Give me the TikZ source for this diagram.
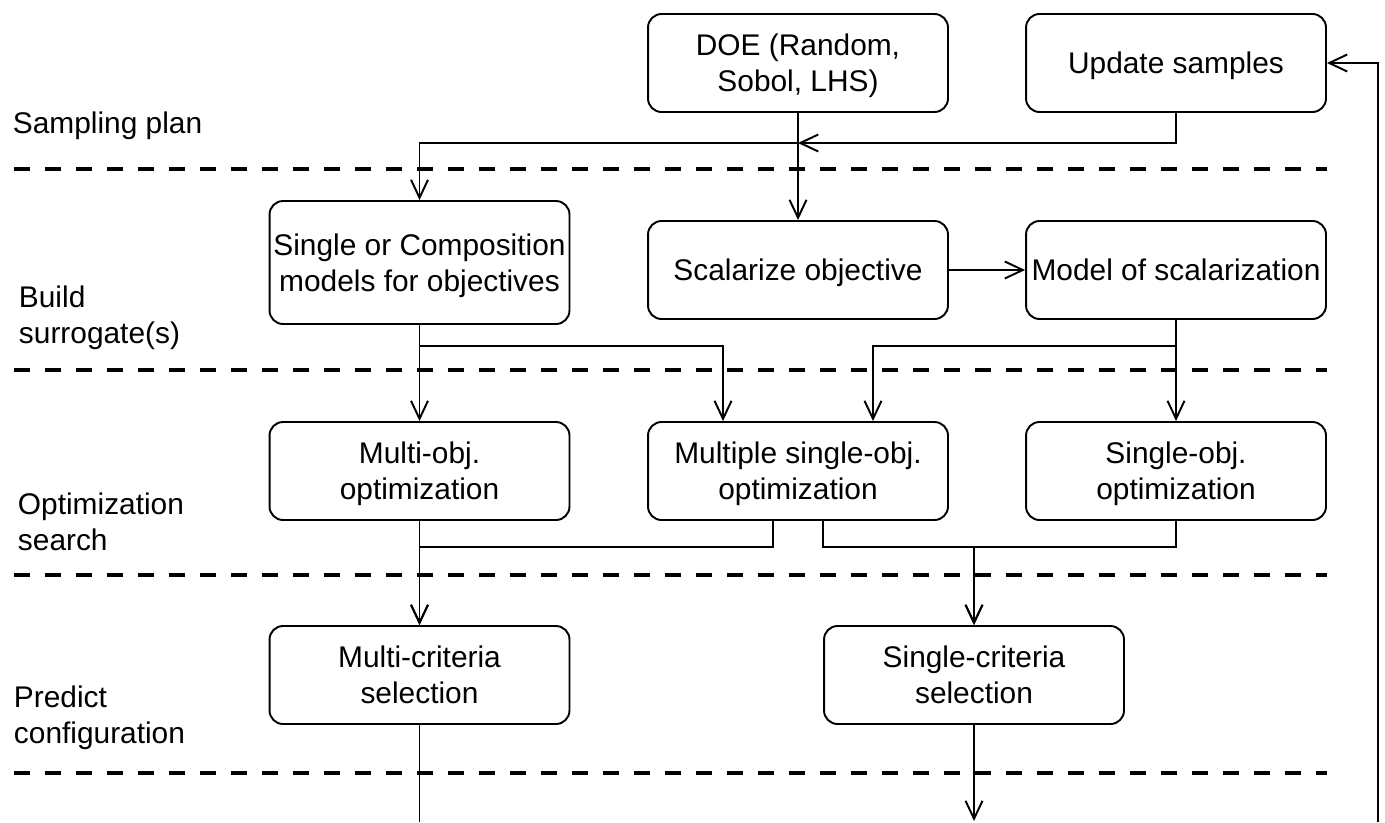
\documentclass[tikz,border=0pt]{standalone}
\usepackage{fontspec}
\setmainfont{Liberation Sans}
\usepackage{tikz}
\usetikzlibrary{arrows.meta}
\tikzset{my_chart/.style={x=0.02cm,y=-0.02cm,line width=1.1pt,font=\fontsize{17}{20.5}\selectfont}}
\tikzset{my_box/.style={draw, rounded corners=0.27cm, align=center, inner sep=0pt, text depth=-2pt, minimum width=6.0cm, minimum height=1.96cm}}
\tikzset{my_flow/.style={-{Straight Barb[length=0.36cm,width=0.34cm]}}}
\tikzset{my_sep/.style={line width=2.8pt, dash pattern=on 0.32cm off 0.3cm}}
\tikzset{my_lane/.style={anchor=west, align=left, inner sep=0pt}}

\begin{document}
\begin{tikzpicture}[my_chart]
    \useasboundingbox (0,0) rectangle (1385,822);
    %\draw[help lines] (0,0) grid (1385,822);

    % lanes
    \node[my_lane] (lane_sampling) at (12,126) {Sampling plan};
    \node[my_lane] (lane_build) at (18,318) {Build\\surrogate(s)};
    \node[my_lane] (lane_search) at (17,522) {Optimization\\search};
    \node[my_lane] (lane_predict) at (13,718) {Predict\\configuration};
    \draw[my_sep] (14,169) -- (1327,169);
    \draw[my_sep] (14,370) -- (1327,370);
    \draw[my_sep] (14,575) -- (1327,575);
    \draw[my_sep] (14,773) -- (1327,773);

    % boxes
    \node[my_box] (doe) at (798,63) {DOE (Random,\\Sobol, LHS)};
    \node[my_box] (update) at (1176,63) {Update samples};
    \node[my_box, minimum height=2.46cm] (single_comp) at (419.5,262.5) {Single or Composition\\models for objectives};
    \node[my_box] (scalarize) at (798,270) {Scalarize objective};
    \node[my_box] (model_scal) at (1176,270) {Model of scalarization};
    \node[my_box] (multi_opt) at (419.5,471) {Multi-obj.\\optimization};
    \node[my_box] (multiple_opt) at (798,471) {Multiple single-obj.\\optimization};
    \node[my_box] (single_opt) at (1176,471) {Single-obj.\\optimization};
    \node[my_box] (multi_sel) at (419.5,675) {Multi-criteria\\selection};
    \node[my_box] (single_sel) at (974,675) {Single-criteria\\selection};

    \coordinate (top_split) at (798,143);
    \coordinate (multi_out) at (419.5,822);
    \coordinate (single_out) at (974,821);
    \coordinate (loop_back) at (1378,822);

    % connectors
    \draw[my_flow] (doe.south) -- (scalarize.north);
    \draw[my_flow] (top_split) -| (single_comp.north);
    \draw[my_flow] (update.south) |- (top_split);
    \draw[my_flow] (scalarize) -- (model_scal);
    \draw[my_flow] (single_comp.south) -- (multi_opt.north);
    \draw[my_flow] (single_comp.south) -- ++(0,21) -| ([xshift=-1.5cm]multiple_opt.north);
    \draw[my_flow] (model_scal.south) -- (single_opt.north);
    \draw[my_flow] (model_scal.south) -- ++(0,26) -| ([xshift=1.5cm]multiple_opt.north);
    \draw[my_flow] (multi_opt.south) -- (multi_sel.north);
    \draw[my_flow] ([xshift=-0.5cm]multiple_opt.south) -- ++(0,26) -| (multi_sel.north);
    \draw[my_flow] ([xshift=0.5cm]multiple_opt.south) -- ++(0,26) -| (single_sel.north);
    \draw[my_flow] (single_opt.south) -- ++(0,26) -| (single_sel.north);
    \draw (multi_sel.south) -- (multi_out);
    \draw[my_flow] (single_sel.south) -- (single_out);
    \draw[my_flow] (loop_back) |- (update.east);
\end{tikzpicture}
\end{document}
